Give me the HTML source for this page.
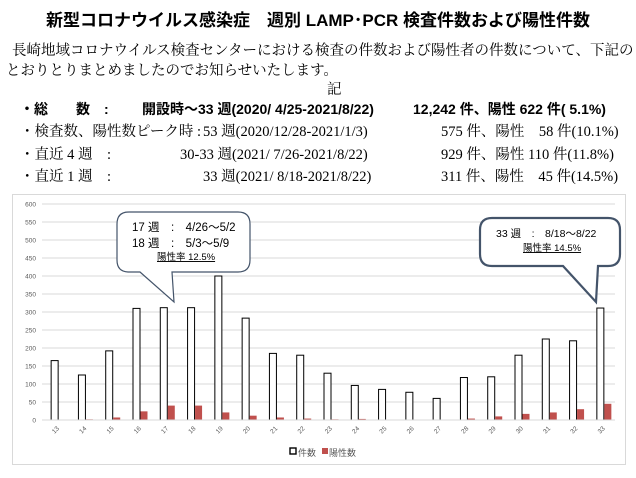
<!DOCTYPE html>
<html><head><meta charset="utf-8"><style>
body{margin:0;width:636px;height:478px;background:#fff;overflow:hidden;position:relative;font-family:"Liberation Serif","Noto Serif CJK SC",serif;color:#000}
.t{position:absolute;white-space:nowrap}
#title{left:0;width:636px;text-align:center;top:6px;font:bold 17px "Liberation Sans","Noto Sans CJK JP",sans-serif}
.p{font-size:14.5px}
.b{font:bold 14px "Liberation Sans","Noto Sans CJK JP",sans-serif}
</style></head><body>
<div id="title" class="t">新型コロナウイルス感染症　週別 LAMP･PCR 検査件数および陽性件数</div>
<div class="t p" style="left:12px;top:39px">長崎地域コロナウイルス検査センターにおける検査の件数および陽性者の件数について、下記の</div>
<div class="t p" style="left:6px;top:59px">とおりとりまとめましたのでお知らせいたします。</div>
<div class="t p" style="left:327px;top:78px">記</div>
<div class="t b" style="left:20px;top:99px">・総　　数　:</div>
<div class="t b" style="left:142px;top:99px">開設時～33 週(2020/ 4/25-2021/8/22)</div>
<div class="t b" style="left:413px;top:99px">12,242 件、陽性 622 件( 5.1%)</div>
<div class="t p" style="left:20px;top:120px">・検査数、陽性数ピーク時 :</div>
<div class="t p" style="left:203px;top:120px">53 週(2020/12/28-2021/1/3)</div>
<div class="t p" style="left:441px;top:120px">575 件、陽性　58 件(10.1%)</div>
<div class="t p" style="left:20px;top:143px">・直近 4 週　:</div>
<div class="t p" style="left:180px;top:143px">30-33 週(2021/ 7/26-2021/8/22)</div>
<div class="t p" style="left:441px;top:143px">929 件、陽性 110 件(11.8%)</div>
<div class="t p" style="left:20px;top:165px">・直近 1 週　:</div>
<div class="t p" style="left:203px;top:165px">33 週(2021/ 8/18-2021/8/22)</div>
<div class="t p" style="left:441px;top:165px">311 件、陽性　45 件(14.5%)</div>
<svg id="chart" width="636" height="478" style="position:absolute;left:0;top:0"></svg>
<script>
const weeks=["13","14","15","16","17","18","19","20","21","22","23","24","25","26","27","28","29","30","31","32","33"];
const counts=[165,125,192,310,312,312,400,283,185,180,130,96,85,77,60,118,120,180,225,220,311];
const positives=[0,2,7,24,40,40,21,12,7,4,2,3,0,0,0,4,10,17,21,30,45];
const yTicks=[0,50,100,150,200,250,300,350,400,450,500,550,600];
const NS="http://www.w3.org/2000/svg";
const svg=document.getElementById('chart');
const X0=42,X1=615,Y0=420,Y1=204;
const y=v=>Y0-(v/600)*(Y0-Y1);
const step=(X1-X0)/weeks.length;
const xc=i=>X0+step*(i+0.5);
function mk(t,a){const e=document.createElementNS(NS,t);for(const k in a)e.setAttribute(k,a[k]);svg.appendChild(e);return e;}
let fr=mk('rect',{x:12.5,y:194.5,width:613,height:270,fill:'none',stroke:'#d9d9d9'});


yTicks.forEach(v=>{
 let l=mk('line',{x1:X0,x2:X1,y1:y(v),y2:y(v),stroke:'#d9d9d9','stroke-width':1});
 
 
 let t=mk('text',{x:36,y:y(v)+2.5,'text-anchor':'end','font-size':6.5,fill:'#595959','font-family':'Liberation Sans,sans-serif'});
 t.textContent=v;
 
 
});
weeks.forEach((w,i)=>{
 const c=xc(i);
 let b=mk('rect',{x:c-4.5,y:y(counts[i]),width:7,height:Y0-y(counts[i]),fill:'#fff',stroke:'#000','stroke-width':1});
 
 
 let r=mk('rect',{x:c+3,y:y(positives[i]),width:7,height:Y0-y(positives[i]),fill:'#c0504d'});
 
 
 let t=mk('text',{x:c,y:432,'text-anchor':'middle','font-size':6.5,fill:'#595959','font-family':'Liberation Sans,sans-serif',transform:`rotate(-45 ${c} 430)`});
 t.textContent=w;
 
 
});
let ax=mk('line',{x1:X0,x2:X1,y1:Y0,y2:Y0,stroke:'#d9d9d9'});


let l1=mk('rect',{x:290,y:448,width:6,height:6,fill:'#fff',stroke:'#000','stroke-width':1.4});


let lt1=mk('text',{x:298,y:456,'font-size':9,fill:'#595959','font-family':'Noto Sans CJK JP,sans-serif'});lt1.textContent='件数';


let l2=mk('rect',{x:322,y:448,width:6,height:6,fill:'#c0504d'});


let lt2=mk('text',{x:329,y:456,'font-size':9,fill:'#595959','font-family':'Noto Sans CJK JP,sans-serif'});lt2.textContent='陽性数';


function callout(name,x,yy,w,h,px1,px2,tx,ty,sw,lines){
 const r=12;
 const d=`M${x+r},${yy} H${x+w-r} Q${x+w},${yy} ${x+w},${yy+r} V${yy+h-r} Q${x+w},${yy+h} ${x+w-r},${yy+h} H${px2} L${tx},${ty} L${px1},${yy+h} H${x+r} Q${x},${yy+h} ${x},${yy+h-r} V${yy+r} Q${x},${yy} ${x+r},${yy} Z`;
 let p=mk('path',{d:d,fill:'#fff',stroke:'#44546a','stroke-width':sw});
 
 
 lines.forEach(L=>{
  let t=mk('text',{x:L[0],y:L[1],'font-size':L[3],fill:'#000','font-family':'Liberation Sans,Noto Sans CJK JP,sans-serif','text-decoration':L[4]?'underline':'none'});
  t.textContent=L[2];
  
  
 });
}
callout('callout-week17-18',117,212,133,60,140,172,174,302,1.2,[[132,231,'17 週　:　4/26～5/2',11.5],[132,247,'18 週　:　5/3～5/9',11.5],[157,260,'陽性率 12.5%',9.5,true]]);
callout('callout-week33',480,218,140,48,563,598,596,302,2.2,[[496,237,'33 週　:　8/18～8/22',10.5],[523,251,'陽性率 14.5%',9.5,true]]);
</script>
</body></html>
